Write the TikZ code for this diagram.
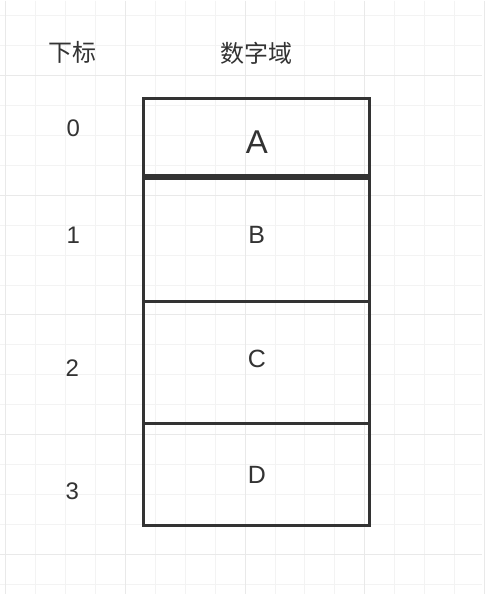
\documentclass[tikz,border=0pt]{standalone}
\usepackage{fontspec}
\setmainfont{Liberation Sans}
\newfontfamily\cjk{Noto Sans CJK SC}
\usepackage{tikz}
\usetikzlibrary{positioning}
\definecolor{ink}{HTML}{333333}
\definecolor{gridminor}{HTML}{F3F3F3}
\definecolor{gridmajor}{HTML}{E9E9E9}

\begin{document}
\begin{tikzpicture}[x=1pt, y=-1pt,
    cell/.style={rectangle, draw=ink, line width=3pt, outer sep=0pt, inner sep=0pt,
                 minimum width=226.5pt, text=ink, font=\fontsize{25}{30}\selectfont},
    idx/.style={text=ink, font=\fontsize{24}{28}\selectfont},
    head/.style={text=ink, font=\cjk\fontsize{24}{28}\selectfont},
]
    % background grid
    \fill[white] (0,0) rectangle (482,594);
    \foreach \x in {5,35,...,485} \draw[gridminor, line width=1pt] (\x,0) -- (\x,594);
    \foreach \y in {15,45,...,594} \draw[gridminor, line width=1pt] (0,\y) -- (482,\y);
    \foreach \x in {5,125,...,485} \draw[gridmajor, line width=1pt] (\x,0) -- (\x,594);
    \foreach \y in {75,195,...,594} \draw[gridmajor, line width=1pt] (0,\y) -- (482,\y);
    \useasboundingbox (0,0) rectangle (482,594);

    % headers
    \node[head] (hidx) at (72,52) {下标};
    \node[head] (hval) at (256,53) {数字域};

    % cells
    \node[cell, minimum height=77pt, text height=33.6pt, font=\fontsize{33}{38}\selectfont] (cellA) at (256.75,136.5) {A};
    \node[cell, minimum height=124pt, text depth=10pt, below=3pt of cellA] (cellB) {B};
    \node[cell, minimum height=122pt, text depth=9pt, below=0pt of cellB] (cellC) {C};
    \node[cell, minimum height=102pt, below=0pt of cellC] (cellD) {D};

    % indices
    \node[idx] (i0) at (73,128) {0};
    \node[idx] (i1) at (73,235) {1};
    \node[idx] (i2) at (72,368) {2};
    \node[idx] (i3) at (72,492) {3};
\end{tikzpicture}
\end{document}
